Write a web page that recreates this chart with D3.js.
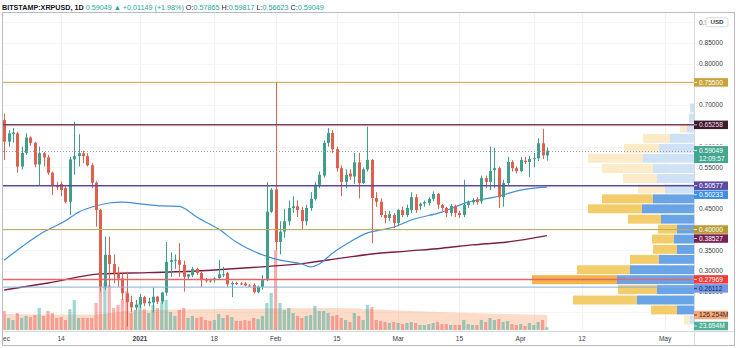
<!DOCTYPE html>
<html>
<head>
<meta charset="utf-8">
<script src="https://cdn.jsdelivr.net/npm/d3@7/dist/d3.min.js"></script>
<style>
  body { margin: 0; background: #fff; }
  text { font-family: "Liberation Sans", Arial, sans-serif; }
</style>
</head>
<body>
<svg id="chart" width="736" height="348"></svg>
<script>
// daily candles, BITSTAMP:XRPUSD, starting 2020-12-01
const firstDay = "2020-12-01";
const openP = [0.664,0.612,0.630,0.632,0.552,0.585,0.622,0.609,0.557,0.584,0.574,0.537,0.507,0.510,0.500,0.467,0.569,0.577,0.584,0.577,
  0.555,0.513,0.447,0.262,0.339,0.317,0.294,0.282,0.246,0.225,0.212,0.219,0.237,0.222,0.224,0.238,0.226,0.248,0.322,0.326,
  0.326,0.315,0.286,0.290,0.305,0.295,0.279,0.277,0.278,0.283,0.292,0.295,0.268,0.271,0.270,0.270,0.265,0.266,0.249,0.262,
  0.278,0.443,0.497,0.370,0.395,0.420,0.452,0.456,0.447,0.420,0.452,0.474,0.508,0.530,0.609,0.633,0.594,0.548,0.515,0.535,
  0.528,0.562,0.512,0.545,0.568,0.476,0.467,0.435,0.428,0.435,0.416,0.447,0.435,0.447,0.478,0.457,0.463,0.464,0.474,0.486,
  0.459,0.452,0.440,0.457,0.440,0.435,0.459,0.466,0.473,0.468,0.524,0.515,0.543,0.548,0.478,0.512,0.563,0.548,0.541,0.566,
  0.563,0.570,0.572,0.608,0.57865];
const highP = [0.680,0.640,0.645,0.636,0.600,0.632,0.625,0.612,0.600,0.587,0.580,0.540,0.515,0.516,0.505,0.575,0.660,0.630,0.590,0.584,
  0.560,0.516,0.450,0.383,0.383,0.340,0.310,0.294,0.298,0.240,0.230,0.245,0.240,0.235,0.260,0.240,0.250,0.370,0.345,0.340,
  0.367,0.325,0.292,0.310,0.308,0.298,0.283,0.281,0.285,0.326,0.310,0.298,0.275,0.274,0.273,0.273,0.268,0.270,0.265,0.290,
  0.514,0.500,0.755,0.420,0.450,0.470,0.480,0.470,0.455,0.460,0.490,0.515,0.540,0.615,0.645,0.640,0.600,0.555,0.545,0.545,
  0.585,0.585,0.550,0.648,0.570,0.490,0.475,0.445,0.445,0.440,0.450,0.455,0.460,0.490,0.485,0.465,0.470,0.478,0.492,0.488,
  0.462,0.455,0.462,0.460,0.445,0.520,0.470,0.476,0.478,0.530,0.530,0.600,0.597,0.552,0.520,0.575,0.567,0.552,0.575,0.575,
  0.578,0.585,0.620,0.643,0.59817];
const lowP = [0.568,0.600,0.610,0.537,0.545,0.580,0.602,0.550,0.507,0.552,0.532,0.483,0.495,0.480,0.463,0.435,0.532,0.552,0.560,0.552,
  0.500,0.407,0.250,0.255,0.262,0.270,0.262,0.230,0.166,0.200,0.205,0.210,0.215,0.215,0.200,0.220,0.220,0.240,0.286,0.305,
  0.286,0.250,0.280,0.285,0.290,0.262,0.272,0.272,0.272,0.278,0.285,0.262,0.237,0.266,0.266,0.263,0.262,0.246,0.246,0.255,
  0.276,0.440,0.350,0.340,0.380,0.410,0.440,0.430,0.400,0.410,0.445,0.470,0.500,0.525,0.600,0.585,0.540,0.480,0.500,0.520,
  0.510,0.475,0.510,0.540,0.367,0.455,0.430,0.415,0.420,0.404,0.410,0.430,0.430,0.440,0.440,0.447,0.455,0.458,0.468,0.450,
  0.445,0.430,0.432,0.430,0.428,0.430,0.452,0.460,0.460,0.462,0.500,0.495,0.500,0.452,0.455,0.505,0.540,0.535,0.538,0.558,
  0.527,0.550,0.565,0.570,0.56623];
const closeP = [0.612,0.632,0.634,0.552,0.585,0.622,0.609,0.557,0.584,0.574,0.537,0.507,0.502,0.495,0.467,0.569,0.577,0.584,0.577,0.555,
  0.513,0.447,0.262,0.339,0.317,0.294,0.282,0.246,0.225,0.212,0.219,0.237,0.222,0.226,0.238,0.226,0.248,0.322,0.326,0.327,
  0.315,0.286,0.292,0.305,0.295,0.278,0.277,0.276,0.282,0.292,0.292,0.268,0.271,0.270,0.269,0.265,0.264,0.249,0.262,0.278,
  0.443,0.496,0.370,0.395,0.420,0.452,0.456,0.447,0.420,0.452,0.474,0.508,0.532,0.609,0.633,0.594,0.548,0.515,0.532,0.528,
  0.562,0.512,0.545,0.568,0.476,0.467,0.435,0.428,0.437,0.416,0.447,0.435,0.452,0.478,0.447,0.462,0.466,0.474,0.486,0.460,
  0.452,0.440,0.457,0.440,0.435,0.459,0.466,0.471,0.466,0.524,0.515,0.541,0.548,0.478,0.512,0.563,0.548,0.541,0.568,0.563,
  0.570,0.572,0.608,0.579,0.59049];
// volume in millions
const volume = [160,101,84,143,101,118,109,126,185,118,160,143,101,109,84,176,252,101,101,101,
  101,227,378,395,378,185,210,260,328,143,168,227,176,143,210,185,235,252,151,118,
  168,185,101,118,101,109,84,76,84,134,101,126,109,76,76,84,76,101,92,118,
  227,311,672,227,168,185,143,118,101,118,126,202,160,160,143,118,126,101,84,67,
  143,118,84,210,193,84,76,67,59,67,59,50,59,67,59,42,42,50,59,67,
  50,50,42,42,42,84,50,42,42,84,67,101,84,92,67,76,50,42,50,34,
  59,42,67,84,23.694];

// moving averages (day index from first candle, value)
const maFastDays = [0,9,14,17,21,24,27,31,36,40,41,44,49,53,58,63,68,70,72,75,79,83,86,89,93,100,106,112,118,122,124];
const maFastVals = [0.326,0.394,0.421,0.442,0.457,0.464,0.466,0.462,0.457,0.456,0.452,0.430,0.401,0.370,0.343,0.326,0.317,0.310,0.317,0.343,
  0.370,0.392,0.399,0.406,0.423,0.442,0.466,0.478,0.495,0.501,0.50233];
const maSlowDays = [0,10,22,29,44,59,69,77,84,92,100,107,115,124];
const maSlowVals = [0.254,0.271,0.293,0.295,0.300,0.310,0.319,0.331,0.341,0.348,0.355,0.363,0.370,0.38527];
const volMaDays = [0,20,30,45,62,75,90,105,124];
const volMaVals = [135,130,165,175,180,185,165,145,126.254];

// visible range volume profile, rows from the top price bin down
const profileTop = [0.705,0.681,0.657,0.632,0.608,0.584,0.559,0.535,0.510,0.486,0.462,0.437,0.413,0.389,0.364,0.340,0.315,0.291,0.267,0.242,0.218,0.194];
const profileUp = [40,50,70,240,350,510,410,370,290,410,520,330,170,200,170,350,640,770,370,570,170,40];
const profileDown = [0,0,70,270,350,550,510,340,270,510,540,330,190,220,240,290,530,850,390,640,260,60];
const valueAreaFrom = 9, valueAreaTo = 20, pocRow = 17;

// horizontal levels
const levels = [
  {v: 0.755, color: "#c9a23a", w: 1, bg: "#c9a23a", fg: "#ffffff"},
  {v: 0.65258, color: "#7a3d5b", w: 1.5, bg: "#3b1d2c", fg: "#f3dbe4"},
  {v: 0.50577, color: "#5a4ba0", w: 1.5, bg: "#5a4ba0", fg: "#ffffff"},
  {v: 0.40, color: "#bcae52", w: 1, bg: "#b89b34", fg: "#ffffff"},
  {v: 0.27969, color: "#e2666a", w: 1.5, bg: "#f23b3b", fg: "#ffffff"},
  {v: 0.26112, color: "#86aedd", w: 1, bg: "#6f97e6", fg: "#16286a"}
];

const priceTicks = [0.85, 0.80, 0.70, 0.55, 0.45, 0.35, 0.30];
// ticks that are partly hidden behind labels
const partialTicks = [[0.90, "left"], [0.60, "top"], [0.25, "bottom"]];
const timeLabels = ["Dec", "14", "2021", "18", "Feb", "15", "Mar", "15", "Apr", "12", "May"];
const timeLabelDates = ["2020-12-01","2020-12-14","2021-01-01","2021-01-18","2021-02-01","2021-02-15","2021-03-01","2021-03-15","2021-03-29","2021-04-12","2021-05-01"];
const timeGridDates = ["2020-12-14","2021-01-01","2021-01-18","2021-02-01","2021-02-15","2021-03-01","2021-03-15","2021-04-01","2021-04-12","2021-05-01"];

const upColor = "#3f9f8c", downColor = "#e0604f";
const DAY = 864e5;
const t0 = new Date(firstDay + "T00:00:00Z");
const dayDate = d => new Date(t0.getTime() + d * DAY);

const L = 3, R = 694, T = 13, B = 331;
const svg = d3.select("#chart");
const defs = svg.append("defs");

const x = d3.scaleUtc()
  .domain([dayDate(-0.274), dayDate(157.6)])
  .range([L, R]);
const y = d3.scaleLinear().domain([0.1552, 0.9224]).range([B, T]);
const yVol = d3.scaleLinear().domain([0, 126.254]).range([330, 315]);
const wProfile = d3.scaleLinear().domain([0, 1620]).range([0, 162]);

defs.append("clipPath").attr("id", "plot")
  .append("rect").attr("x", L).attr("y", T).attr("width", R - L).attr("height", B - T);

const plot = svg.append("g").attr("clip-path", "url(#plot)");

// grid
plot.selectAll(".vgrid").data(timeGridDates).join("line")
  .attr("x1", d => Math.round(x(new Date(d + "T00:00:00Z"))) + 0.5)
  .attr("x2", d => Math.round(x(new Date(d + "T00:00:00Z"))) + 0.5)
  .attr("y1", T).attr("y2", B)
  .attr("stroke", "#eef0f3").attr("stroke-width", 1);
plot.selectAll(".hgrid").data(d3.range(0.20, 0.91, 0.05)).join("line")
  .attr("x1", L).attr("x2", R)
  .attr("y1", d => Math.round(y(d)) + 0.5).attr("y2", d => Math.round(y(d)) + 0.5)
  .attr("stroke", "#f4f5f7").attr("stroke-width", 1);

const candles = openP.map((o, i) => ({
  date: dayDate(i), o, h: highP[i], l: lowP[i], c: closeP[i], vol: volume[i], up: closeP[i] >= o
}));

// volume MA area
const volMa = volMaDays.map((d, i) => ({date: dayDate(d), v: volMaVals[i]}));
plot.append("path").datum(volMa)
  .attr("d", d3.area().x(d => x(d.date)).y0(330).y1(d => yVol(d.v)).curve(d3.curveMonotoneX))
  .attr("fill", "rgba(247,160,110,0.38)");

// volume bars
plot.selectAll(".vol").data(candles).join("rect")
  .attr("x", d => x(d.date) - 1.6)
  .attr("width", 3.2)
  .attr("y", d => yVol(d.vol))
  .attr("height", d => 330 - yVol(d.vol))
  .attr("fill", d => d.up ? "rgba(38,166,154,0.45)" : "rgba(239,83,80,0.45)");

// volume profile
const rowH = Math.abs(y(profileTop[1]) - y(profileTop[0]));
profileTop.forEach((top, i) => {
  const inVA = i >= valueAreaFrom && i <= valueAreaTo;
  const y0 = y(top) + 0.5;
  const h = rowH - 1;
  const wu = wProfile(profileUp[i]), wd = wProfile(profileDown[i]);
  plot.append("rect").attr("x", R - wu).attr("y", y0).attr("width", wu).attr("height", h)
    .attr("fill", inVA ? "#68a4e6" : "#cfe1f6");
  plot.append("rect").attr("x", R - wu - wd).attr("y", y0).attr("width", wd).attr("height", h)
    .attr("fill", i === pocRow ? "#f4b548" : (inVA ? "#f3cd6b" : "#fcebc8"));
});

// moving averages
const line = d3.line().x(d => x(d.date)).y(d => y(d.v)).curve(d3.curveMonotoneX);
plot.append("path")
  .datum(maSlowDays.map((d, i) => ({date: dayDate(d), v: maSlowVals[i]})))
  .attr("d", line).attr("fill", "none").attr("stroke", "#7d1d45").attr("stroke-width", 1.4);
plot.append("path")
  .datum(maFastDays.map((d, i) => ({date: dayDate(d), v: maFastVals[i]})))
  .attr("d", line).attr("fill", "none").attr("stroke", "#3f8fd8").attr("stroke-width", 1.2);

// candles
const cg = plot.append("g");
cg.selectAll(".wick").data(candles).join("line")
  .attr("x1", d => Math.round(x(d.date)) + 0.5).attr("x2", d => Math.round(x(d.date)) + 0.5)
  .attr("y1", d => y(d.h)).attr("y2", d => y(d.l))
  .attr("stroke", d => d.up ? upColor : downColor).attr("stroke-width", 1);
cg.selectAll(".body").data(candles).join("rect")
  .attr("x", d => Math.round(x(d.date)) - 1)
  .attr("width", 3)
  .attr("y", d => y(Math.max(d.o, d.c)))
  .attr("height", d => Math.max(1, Math.abs(y(d.o) - y(d.c))))
  .attr("fill", d => d.up ? upColor : downColor);

// current price line
const last = candles[candles.length - 1];
plot.append("line").attr("x1", L).attr("x2", R)
  .attr("y1", Math.round(y(last.c)) + 0.5).attr("y2", Math.round(y(last.c)) + 0.5)
  .attr("stroke", "#9aa0a6").attr("stroke-dasharray", "1,2").attr("stroke-width", 1);

// horizontal levels
plot.selectAll(".level").data(levels).join("line")
  .attr("x1", L).attr("x2", R)
  .attr("y1", d => y(d.v)).attr("y2", d => y(d.v))
  .attr("stroke", d => d.color).attr("stroke-width", d => d.w);

// frame
svg.append("rect").attr("x", 2.5).attr("y", 12.5).attr("width", 732).attr("height", 333)
  .attr("fill", "none").attr("stroke", "#b9bcc2").attr("stroke-width", 1);
svg.append("line").attr("x1", R + 0.5).attr("x2", R + 0.5).attr("y1", 13).attr("y2", 345)
  .attr("stroke", "#d6d8dc");
svg.append("line").attr("x1", 3).attr("x2", 734).attr("y1", B + 0.5).attr("y2", B + 0.5)
  .attr("stroke", "#d6d8dc");

// price axis
const fmt = d3.format(".5f");
svg.selectAll(".ptick").data(priceTicks).join("text")
  .attr("x", 699).attr("y", d => y(d)).attr("dy", "0.35em")
  .attr("font-size", 6.6).attr("fill", "#3a3e46")
  .text(d => fmt(d));

// ticks that peek out from under a label: clip them to the visible part
partialTicks.forEach(([v, side], k) => {
  const cy = y(v);
  const r = side === "left" ? [695, cy - 6, 10.5, 12]
          : side === "top" ? [695, cy - 6, 40, 4.2]
          : [695, cy + 0.6, 40, 6];
  defs.append("clipPath").attr("id", "pt" + k)
    .append("rect").attr("x", r[0]).attr("y", r[1]).attr("width", r[2]).attr("height", r[3]);
  svg.append("text").attr("clip-path", "url(#pt" + k + ")")
    .attr("x", 699).attr("y", cy).attr("dy", "0.35em")
    .attr("font-size", 6.6).attr("fill", "#3a3e46").text(fmt(v));
});
svg.append("rect").attr("x", 706).attr("y", y(0.90) - 4.5).attr("width", 22).attr("height", 9).attr("rx", 2)
  .attr("fill", "#fff").attr("stroke", "#c4c7cc").attr("stroke-width", 0.7);
svg.append("text").attr("x", 717).attr("y", y(0.90)).attr("dy", "0.35em").attr("text-anchor", "middle")
  .attr("font-size", 6.2).attr("font-weight", "bold").attr("fill", "#3a3e46").text("USD");

// axis labels for levels, pushed apart like the platform does
const tags = levels.map(d => ({v: d.v, text: fmt(d.v), bg: d.bg, fg: d.fg}))
  .concat([{v: 0.50233, text: "0.50233", bg: "#3d8ee6", fg: "#ffffff"},
           {v: 0.38527, text: "0.38527", bg: "#7a1f4f", fg: "#ffffff"}])
  .map(d => ({...d, cy: y(d.v)}))
  .sort((a, b) => a.cy - b.cy);
for (let i = 1; i < tags.length; i++) {
  if (tags[i].cy < tags[i - 1].cy + 9) tags[i].cy = tags[i - 1].cy + 9;
}
function tag(cy, h, bg, fg, lines) {
  const g = svg.append("g");
  g.append("rect").attr("x", R).attr("y", cy - h / 2).attr("width", 34).attr("height", h).attr("fill", bg);
  g.append("line").attr("x1", R).attr("x2", R + 3).attr("y1", cy - (lines.length - 1) * 4).attr("y2", cy - (lines.length - 1) * 4)
    .attr("stroke", fg).attr("stroke-width", 0.8);
  lines.forEach((t, k) => {
    g.append("text").attr("x", 699).attr("y", cy - (lines.length - 1) * 4 + k * 8).attr("dy", "0.35em")
      .attr("font-size", 6.6).attr("fill", fg).text(t);
  });
}
tags.forEach(d => tag(d.cy, 8.5, d.bg, d.fg, [d.text]));
tag(y(last.c) + 4, 17, "#43a68f", "#ffffff", [fmt(last.c), "12:09:57"]);
tag(315, 8.5, "#f3a97e", "#3a2212", [d3.format(".3f")(volMaVals[volMaVals.length - 1]) + "M"]);
tag(326, 8.5, "#4fae96", "#ffffff", [d3.format(".3f")(last.vol) + "M"]);

// time axis (first label sits at the very edge and is cut, as on the platform)
defs.append("clipPath").attr("id", "axisclip")
  .append("rect").attr("x", 3).attr("y", 331).attr("width", 691).attr("height", 14);
const ta = svg.append("g").attr("clip-path", "url(#axisclip)");
ta.selectAll("text").data(timeLabels).join("text")
  .attr("x", (d, i) => x(new Date(timeLabelDates[i] + "T00:00:00Z")))
  .attr("y", 338.5).attr("dy", "0.35em").attr("text-anchor", "middle")
  .attr("font-size", 6.6).attr("fill", "#3a3e46")
  .attr("font-weight", d => d === "2021" ? "bold" : "normal")
  .text(d => d);

// header
const hdr = svg.append("text").attr("x", 2).attr("y", 9.5).attr("font-size", 7.2);
const teal = "#26a69a";
[["BITSTAMP:XRPUSD, 1D ", "#131722", "bold"], [fmt(last.c) + " ", teal], ["▲ ", teal],
 ["+0.01149 (+1.98%) ", teal], ["O:", "#131722"], [fmt(last.o) + " ", teal],
 ["H:", "#131722"], [fmt(last.h) + " ", teal], ["L:", "#131722"], [fmt(last.l) + " ", teal],
 ["C:", "#131722"], [fmt(last.c), teal]]
  .forEach(([t, c, w]) => hdr.append("tspan").attr("fill", c).attr("font-weight", w || "normal").text(t));
</script>
</body>
</html>
